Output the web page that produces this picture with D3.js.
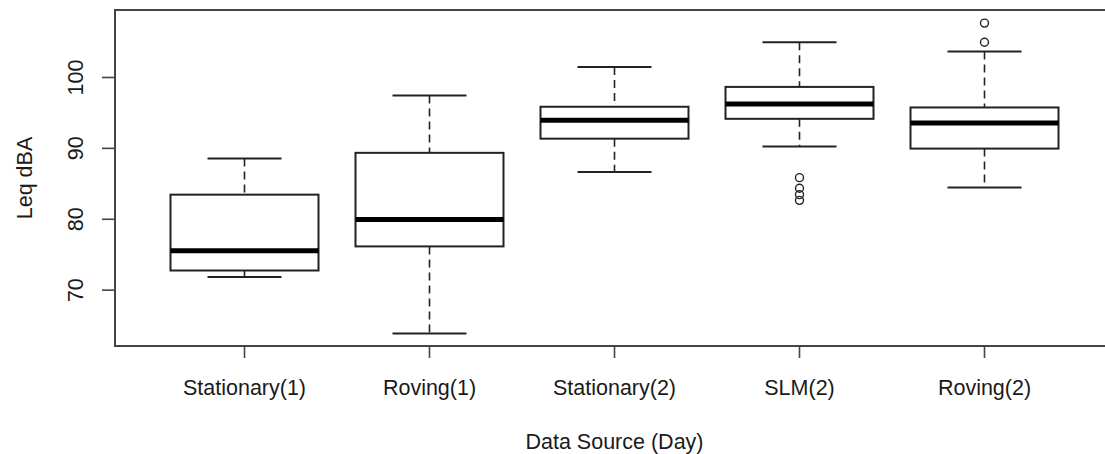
<!DOCTYPE html>
<html>
<head>
<meta charset="utf-8">
<script src="https://cdn.jsdelivr.net/npm/d3@7"></script>
<style>
  body { margin: 0; background: #fff; }
  text { font-family: "Liberation Sans", Arial, sans-serif; fill: #1a1a1a; }
</style>
</head>
<body>
<div id="chart"></div>
<script>
// data
var categories = ["Stationary(1)", "Roving(1)", "Stationary(2)", "SLM(2)", "Roving(2)"];
var whiskerLow  = [71.8, 63.8, 86.6, 90.2, 84.4];
var q1          = [72.7, 76.1, 91.3, 94.1, 89.9];
var median      = [75.5, 79.9, 93.9, 96.2, 93.5];
var q3          = [83.4, 89.3, 95.8, 98.6, 95.7];
var whiskerHigh = [88.5, 97.4, 101.4, 104.9, 103.6];
var outliers = [
  {cat: "SLM(2)", value: 85.8},
  {cat: "SLM(2)", value: 84.3},
  {cat: "SLM(2)", value: 83.4},
  {cat: "SLM(2)", value: 82.6},
  {cat: "Roving(2)", value: 107.6},
  {cat: "Roving(2)", value: 104.9}
];
var yTicks = [70, 80, 90, 100];

var boxes = categories.map(function(c, i) {
  return {cat: c, lo: whiskerLow[i], q1: q1[i], med: median[i], q3: q3[i], hi: whiskerHigh[i]};
});

var totalWidth = 1105, totalHeight = 454;
var margin = {top: 10, left: 115, bottom: 108, right: -9},
    width = totalWidth - margin.left - margin.right,
    height = totalHeight - margin.top - margin.bottom;

var svg = d3.select("#chart").append("svg")
    .attr("width", totalWidth)
    .attr("height", totalHeight)
    .style("display", "block");
var g = svg.append("g")
    .attr("transform", "translate(" + margin.left + "," + margin.top + ")");

var step = width / 5.4;
var x_scale = d3.scaleBand()
    .domain(categories)
    .range([0.2 * step, width - 0.2 * step]);
var y_scale = d3.scaleLinear()
    .domain([62.05, 109.45])
    .range([height, 0]);

var bw = x_scale.bandwidth() * 0.8;
function cx(c) { return x_scale(c) + x_scale.bandwidth() / 2; }

// y axis
var yAxis = d3.axisLeft(y_scale).tickValues(yTicks).tickSize(13).tickSizeOuter(0);
var ya = g.append("g").call(yAxis);
ya.select(".domain").remove();
ya.selectAll(".tick line").attr("stroke", "#444").attr("stroke-width", 1.6);
ya.selectAll(".tick text")
    .attr("x", null).attr("dy", null)
    .attr("text-anchor", "middle")
    .attr("transform", "translate(-32,0) rotate(-90)")
    .style("font-size", "21.5px");

// x axis
var xAxis = d3.axisBottom(x_scale).tickSize(12).tickSizeOuter(0);
var xa = g.append("g").attr("transform", "translate(0," + height + ")").call(xAxis);
xa.select(".domain").remove();
xa.selectAll(".tick line").attr("stroke", "#444").attr("stroke-width", 1.6);
xa.selectAll(".tick text")
    .attr("y", 48.5).attr("dy", null)
    .style("font-size", "21.5px");

// whiskers
var bx = g.append("g").selectAll("g.box")
    .data(boxes)
    .enter().append("g").attr("class", "box");

bx.append("line")
    .attr("x1", function(d) { return cx(d.cat); })
    .attr("x2", function(d) { return cx(d.cat); })
    .attr("y1", function(d) { return y_scale(d.hi); })
    .attr("y2", function(d) { return y_scale(d.q3); })
    .attr("stroke", "#222").attr("stroke-width", 1.6).attr("stroke-dasharray", "8,5");
bx.append("line")
    .attr("x1", function(d) { return cx(d.cat); })
    .attr("x2", function(d) { return cx(d.cat); })
    .attr("y1", function(d) { return y_scale(d.q1); })
    .attr("y2", function(d) { return y_scale(d.lo); })
    .attr("stroke", "#222").attr("stroke-width", 1.6).attr("stroke-dasharray", "8,5");
["hi", "lo"].forEach(function(k) {
  bx.append("line")
      .attr("x1", function(d) { return cx(d.cat) - bw / 4; })
      .attr("x2", function(d) { return cx(d.cat) + bw / 4; })
      .attr("y1", function(d) { return y_scale(d[k]); })
      .attr("y2", function(d) { return y_scale(d[k]); })
      .attr("stroke", "#222").attr("stroke-width", 2);
});

bx.append("rect")
    .attr("x", function(d) { return cx(d.cat) - bw / 2; })
    .attr("y", function(d) { return y_scale(d.q3); })
    .attr("width", bw)
    .attr("height", function(d) { return y_scale(d.q1) - y_scale(d.q3); })
    .attr("fill", "#fff").attr("stroke", "#222").attr("stroke-width", 2);
bx.append("line")
    .attr("x1", function(d) { return cx(d.cat) - bw / 2; })
    .attr("x2", function(d) { return cx(d.cat) + bw / 2; })
    .attr("y1", function(d) { return y_scale(d.med); })
    .attr("y2", function(d) { return y_scale(d.med); })
    .attr("stroke", "#000").attr("stroke-width", 5);

g.append("g").selectAll("circle")
    .data(outliers)
    .enter().append("circle")
    .attr("cx", function(d) { return cx(d.cat); })
    .attr("cy", function(d) { return y_scale(d.value); })
    .attr("r", 4)
    .attr("fill", "none").attr("stroke", "#222").attr("stroke-width", 1.4);

// frame
g.append("rect")
    .attr("x", 0).attr("y", 0)
    .attr("width", width).attr("height", height)
    .attr("fill", "none").attr("stroke", "#444").attr("stroke-width", 2);

// titles
svg.append("text")
    .attr("x", margin.left + width / 2).attr("y", 449)
    .attr("text-anchor", "middle")
    .style("font-size", "21.5px")
    .text("Data Source (Day)");
svg.append("text")
    .attr("transform", "translate(31.5," + (margin.top + height / 2) + ") rotate(-90)")
    .attr("text-anchor", "middle")
    .style("font-size", "21.5px")
    .text("Leq dBA");
</script>
</body>
</html>
